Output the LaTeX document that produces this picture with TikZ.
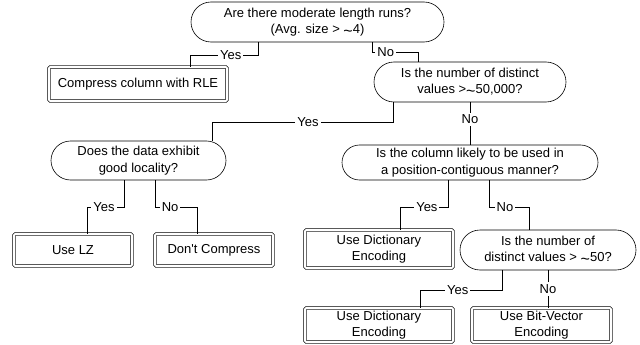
\documentclass[tikz,border=0pt]{standalone}
\usepackage{fontspec}
\setmainfont{Liberation Sans}
\usetikzlibrary{shapes.misc}
\newcommand{\tld}{\raisebox{-0.35ex}{\fontsize{16}{16}\selectfont\textasciitilde}}
\tikzset{question/.style = {rounded rectangle, draw, line width=0.6pt,
                            align=center, inner sep=1pt},
         answer/.style = {draw, double, double distance=2pt, line width=0.6pt,
                          rounded corners=1.2pt, align=center, inner sep=1pt},
         lbl/.style = {fill=white, inner sep=2pt}}

\begin{document}
\begin{tikzpicture}[x=1pt, y=-1pt, font=\fontsize{13}{16.5}\selectfont, line width=0.6pt]
    \useasboundingbox (0,0) rectangle (640,345);

    \node [question, minimum width=255, minimum height=40] (q1) at (317.5,22)
      {Are there moderate length runs?\\(Avg. size > \tld4)};
    \node [question, minimum width=194, minimum height=40] (q2) at (470,82)
      {Is the number of distinct\\values >\tld50,000?};
    \node [question, minimum width=177, minimum height=39] (q3) at (138.5,160.5)
      {Does the data exhibit\\good locality?};
    \node [question, minimum width=258, minimum height=35] (q4) at (470,162.5)
      {Is the column likely to be used in\\a position-contiguous manner?};
    \node [question, minimum width=178, minimum height=40] (q5) at (548,250)
      {Is the number of\\distinct values > \tld50?};

    \node [answer, minimum width=178, minimum height=34] (r1) at (138,84) {Compress column with RLE};
    \node [answer, minimum width=118, minimum height=32] (r2) at (73,250) {Use LZ};
    \node [answer, minimum width=118, minimum height=32] (r3) at (214,250) {Don\textquotesingle t Compress};
    \node [answer, minimum width=148, minimum height=38] (r4) at (379,249) {Use Dictionary\\Encoding};
    \node [answer, minimum width=148, minimum height=34] (r5) at (379,325) {Use Dictionary\\Encoding};
    \node [answer, minimum width=139, minimum height=34] (r6) at (541.5,325) {Use Bit-Vector\\Encoding};

    \foreach \from/\fx/\down/\to/\tx/\p/\txt in {q1/-59.5/13/r1/52/0.2/Yes, q1/54.5/10/q2/-52/0.15/No,
                                                q2/-77/20/q3/73.5/0.235/Yes, q3/-14.5/27/r2/14/0.27/Yes,
                                                q3/16.5/27/r3/-17/0.18/No, q4/-22/27/r4/21/0.22/Yes,
                                                q4/19/27/q5/-19/0.2/No, q5/-46/20/r5/41/0.27/Yes} {
      \draw ([xshift=\fx]\from.south) -- ++(0,\down) -| node [lbl, pos=\p] {\txt} ([xshift=\tx]\to.north);
    }
    \draw (q2.south) -- node [lbl, pos=0.4] {No} (q4.north);
    \draw (q5.south) -- node [lbl] {No} (q5.south |- r6.north);
  \end{tikzpicture}
\end{document}
